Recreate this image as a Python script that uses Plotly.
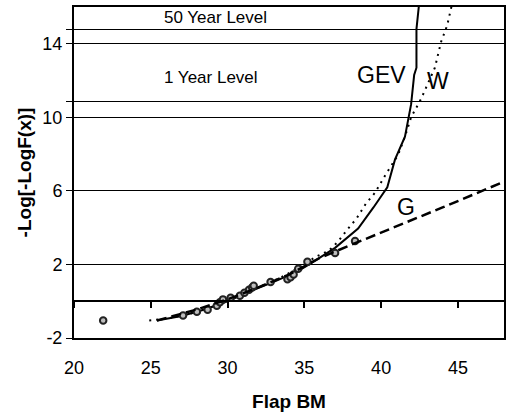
import plotly.graph_objects as go

# Observed data (Flap BM vs reduced variate)
obs_x = [21.9, 27.1, 28.0, 28.7, 29.3, 29.5, 29.7, 30.2, 30.8, 31.1, 31.4, 31.6, 31.7,
         32.8, 33.9, 34.1, 34.3, 34.6, 35.2, 37.0, 38.3]
obs_y = [-1.05, -0.78, -0.57, -0.46, -0.24, -0.05, 0.1, 0.19, 0.3, 0.46, 0.62, 0.75, 0.84,
         1.05, 1.2, 1.3, 1.45, 1.76, 2.14, 2.62, 3.27]

# Fitted curves
gev_x = [25.4, 27.0, 28.5, 30.0, 31.5, 33.0, 34.5, 35.5, 37.0, 38.5, 39.5, 40.4, 40.9,
         41.55, 41.95, 42.15, 42.3, 42.3, 42.45]
gev_y = [-1.05, -0.8, -0.45, 0.0, 0.55, 1.05, 1.6, 2.1, 2.9, 3.95, 5.1, 6.2, 7.7,
         8.95, 10.7, 12.3, 12.7, 14.8, 16.0]

w_x = [24.9, 26.0, 27.5, 29.0, 30.5, 32.0, 33.5, 35.0, 35.7, 36.6, 37.2, 37.8, 38.4,
       39.0, 39.6, 40.3, 41.1, 41.55, 41.95, 42.6, 43.5, 43.9, 44.3, 44.6]
w_y = [-1.05, -0.95, -0.7, -0.3, 0.2, 0.75, 1.3, 2.0, 2.4, 2.75, 3.25, 3.9, 4.5,
       5.3, 5.9, 6.9, 7.95, 8.95, 10.0, 11.0, 12.7, 14.1, 15.0, 16.1]

g_x = [25.4, 28.0, 30.0, 32.0, 34.0, 36.0, 38.0, 40.0, 42.0, 44.0, 46.0, 48.0]
g_y = [-1.05, -0.45, 0.1, 0.75, 1.45, 2.35, 3.05, 3.72, 4.4, 5.1, 5.8, 6.5]

# Return levels
level_1yr = 10.85
level_50yr = 14.77
level_labels = ["1 Year Level", "50 Year Level"]

y_ticks = [-2, 2, 6, 10, 14]
x_ticks = [20, 25, 30, 35, 40, 45]

FONT = "Liberation Sans, Arial, sans-serif"

fig = go.Figure()

fig.add_trace(go.Scatter(x=g_x, y=g_y, mode="lines", xaxis="x2",
                         line=dict(color="black", width=2.5, dash="10px,5px")))
fig.add_trace(go.Scatter(x=w_x, y=w_y, mode="lines",
                         line=dict(color="black", width=2, dash="2px,5px")))
fig.add_trace(go.Scatter(x=gev_x, y=gev_y, mode="lines",
                         line=dict(color="black", width=2)))
fig.add_trace(go.Scatter(x=obs_x, y=obs_y, mode="markers",
                         marker=dict(size=6.5, color="#bdbdbd",
                                     line=dict(color="#222222", width=2))))

tickvals = sorted(y_ticks + [level_1yr, level_50yr])
ticktext = [str(v) if v in y_ticks else "" for v in tickvals]

fig.update_layout(
    width=507, height=414,
    margin=dict(l=74, r=1, t=7, b=76),
    paper_bgcolor="white", plot_bgcolor="white",
    showlegend=False,
    font=dict(family=FONT, size=18, color="black"),
    xaxis=dict(range=[20, 48], tickvals=x_ticks, showgrid=False, zeroline=False,
               showline=True, linecolor="black", linewidth=2, mirror=True,
               ticks="", ticklabelstandoff=12,
               tickfont=dict(size=18),
               title=dict(text="<b>Flap BM</b>", font=dict(size=19), standoff=18)),
    xaxis2=dict(range=[20, 48], matches="x", overlaying="x", anchor="free",
                position=2 / 18, side="bottom", tickvals=x_ticks,
                showticklabels=False, showgrid=False, zeroline=False,
                showline=True, linecolor="black", linewidth=2,
                ticks="outside", ticklen=6, tickwidth=2, tickcolor="black"),
    yaxis=dict(range=[-2, 16], tickvals=tickvals, ticktext=ticktext,
               showgrid=True, gridcolor="black", gridwidth=1, zeroline=False,
               showline=True, linecolor="black", linewidth=2, mirror=True,
               ticks="outside", ticklen=6, tickwidth=1, tickcolor="black",
               tickfont=dict(size=18),
               title=dict(text="<b>-Log[-LogF(x)]</b>", font=dict(size=19), standoff=6)),
)

fig.add_annotation(x=25.7, y=level_50yr + 0.65, text=level_labels[1], showarrow=False,
                   xanchor="left", yanchor="middle", font=dict(size=17))
fig.add_annotation(x=25.7, y=level_1yr + 1.3, text=level_labels[0], showarrow=False,
                   xanchor="left", yanchor="middle", font=dict(size=17))
fig.add_annotation(x=40.0, y=12.3, text="GEV", showarrow=False,
                   xanchor="center", yanchor="middle", font=dict(size=23))
fig.add_annotation(x=43.7, y=11.95, text="W", showarrow=False,
                   xanchor="center", yanchor="middle", font=dict(size=23))
fig.add_annotation(x=41.6, y=5.15, text="G", showarrow=False,
                   xanchor="center", yanchor="middle", font=dict(size=23))

fig.write_html("out.html")
